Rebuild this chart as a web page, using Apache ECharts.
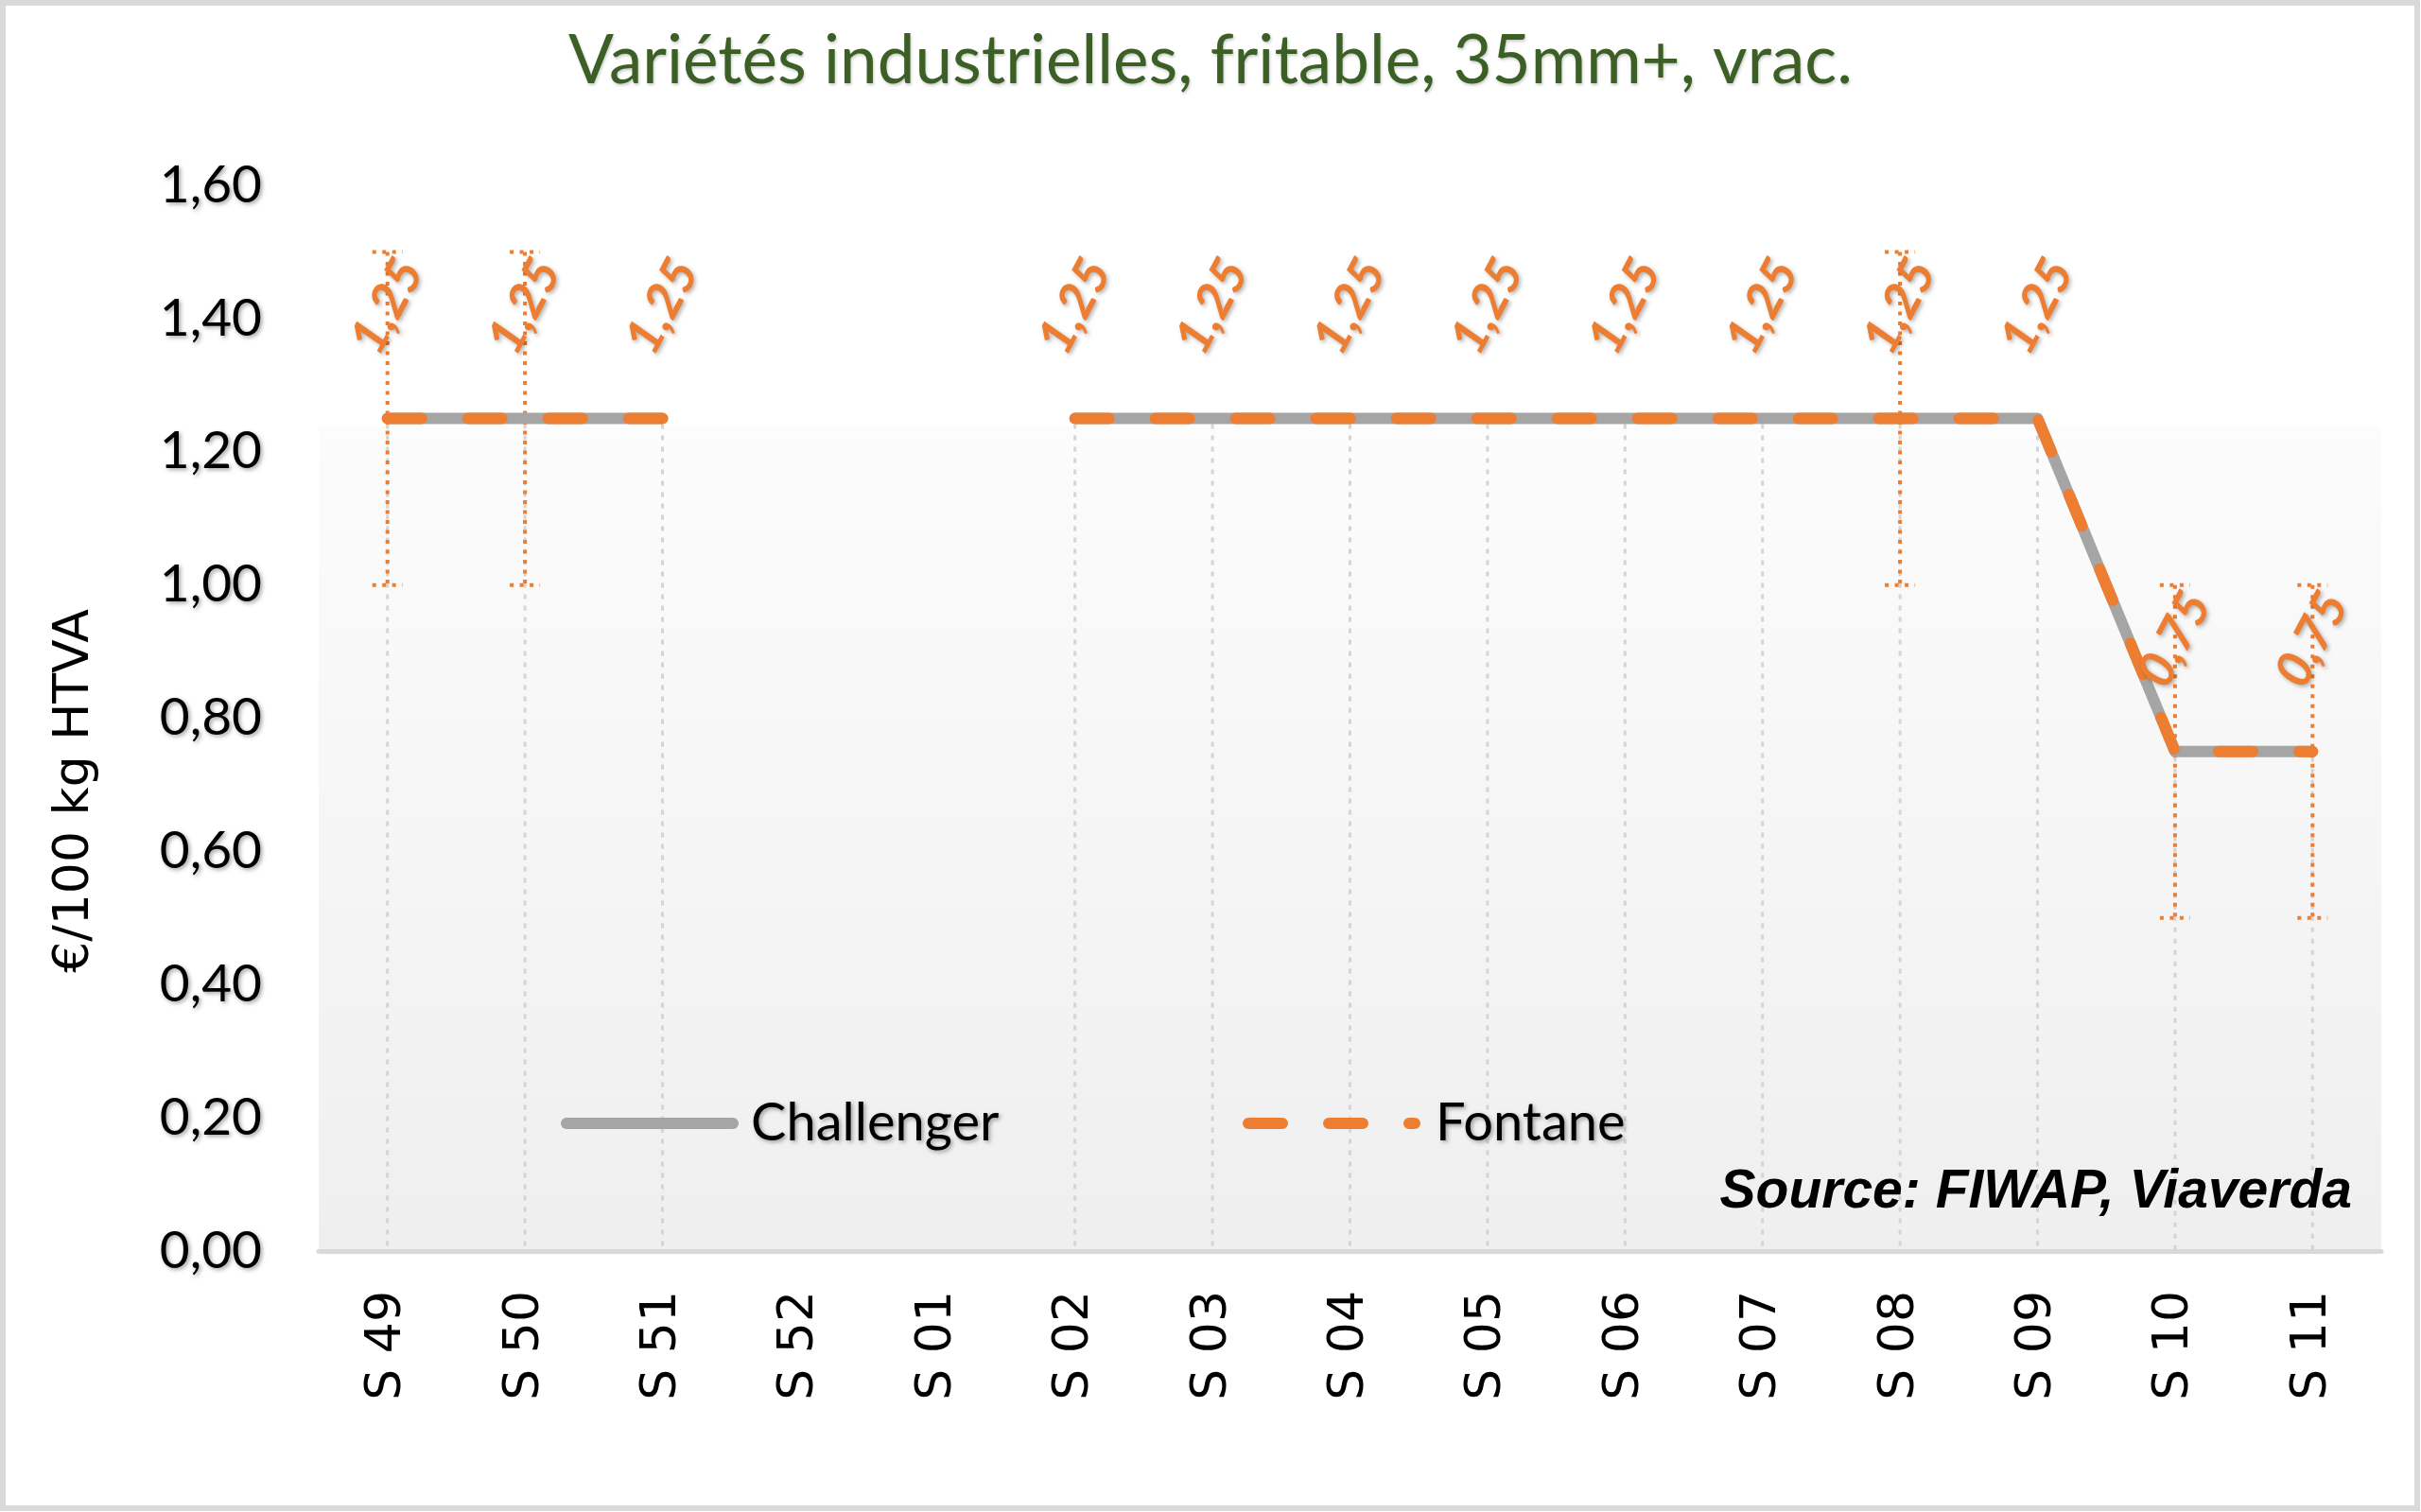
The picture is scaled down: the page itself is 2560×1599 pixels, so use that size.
<!DOCTYPE html>
<html>
<head>
<meta charset="utf-8">
<script src="https://cdn.jsdelivr.net/npm/echarts@6/dist/echarts.min.js"></script>
<style>
  html, body { margin: 0; padding: 0; background: #ffffff; }
  #chart { width: 2560px; height: 1599px; }
</style>
</head>
<body>
<div id="chart"></div>
<script>
// ---- Data ----
const categories = ['S 49','S 50','S 51','S 52','S 01','S 02','S 03','S 04','S 05','S 06','S 07','S 08','S 09','S 10','S 11'];
const challenger = [1.25,1.25,1.25,null,null,1.25,1.25,1.25,1.25,1.25,1.25,1.25,1.25,0.75,0.75];
const fontane    = [1.25,1.25,1.25,null,null,1.25,1.25,1.25,1.25,1.25,1.25,1.25,1.25,0.75,0.75];
const fontaneErrorMinus = [0.25,0.25,null,null,null,null,null,null,null,null,null,0.25,null,0.25,0.25];
const fontaneErrorPlus  = [0.25,0.25,null,null,null,null,null,null,null,null,null,0.25,null,0.25,0.25];
const yTicks = { min: 0, max: 1.6, interval: 0.2 };
const titleText = 'Variétés industrielles, fritable, 35mm+, vrac.';
const yAxisName = '€/100 kg HTVA';
const sourceText = 'Source: FIWAP, Viaverda';

// ---- Derived ----
const dropData = [];
challenger.forEach((v, i) => { if (v != null) dropData.push([i, v]); });
const errData = [];
fontane.forEach((v, i) => {
  if (v != null && fontaneErrorMinus[i] != null) errData.push([i, v - fontaneErrorMinus[i], v + fontaneErrorPlus[i]]);
});
const fmt = v => Number(v).toFixed(2).replace('.', ',');

const ORANGE = '#ed7d31';
const GRAY = '#a5a5a5';
const shadow = { textShadowColor: 'rgba(0,0,0,0.35)', textShadowBlur: 4, textShadowOffsetX: 2, textShadowOffsetY: 2 };

const chart = echarts.init(document.getElementById('chart'), null, { renderer: 'canvas', devicePixelRatio: 1 });

chart.setOption({
  backgroundColor: '#ffffff',
  animation: false,
  title: {
    text: titleText,
    left: 'center',
    top: 25,
    textStyle: Object.assign({ fontFamily: 'Lato', fontWeight: 'normal', fontSize: 71, color: '#3b5f25' },
      { textShadowColor: 'rgba(0,0,0,0.2)', textShadowBlur: 3, textShadowOffsetX: 1, textShadowOffsetY: 2 })
  },
  grid: {
    left: 337, right: 42, top: 196, bottom: 276,
    show: true, borderWidth: 0, borderColor: 'transparent',
    backgroundColor: {
      type: 'linear', x: 0, y: 0, x2: 0, y2: 1,
      colorStops: [
        { offset: 0, color: '#ffffff' },
        { offset: 0.225, color: '#ffffff' },
        { offset: 0.227, color: '#fcfcfc' },
        { offset: 1, color: '#efefef' }
      ]
    }
  },
  legend: [
    {
      data: ['Challenger'],
      left: 588, top: 1155,
      itemWidth: 176, itemHeight: 24,
      lineStyle: { width: 12, type: 'solid', cap: 'round' },
      textStyle: Object.assign({ fontFamily: 'Lato', fontSize: 56, color: '#000', padding: [0, 0, 0, 14] }, shadow)
    },
    {
      data: ['Fontane'],
      left: 1309, top: 1155,
      itemWidth: 176, itemHeight: 24,
      lineStyle: { width: 12, type: [36, 49], cap: 'round' },
      textStyle: Object.assign({ fontFamily: 'Lato', fontSize: 56, color: '#000', padding: [0, 0, 0, 17] }, shadow)
    }
  ],
  xAxis: {
    type: 'category',
    data: categories,
    boundaryGap: true,
    axisLine: { show: true, lineStyle: { color: '#d9d9d9', width: 5 } },
    axisTick: { show: false },
    splitLine: { show: false },
    axisLabel: {
      rotate: 90, margin: 42, interval: 0,
      fontFamily: 'DejaVu Sans', fontSize: 52, color: '#000'
    }
  },
  yAxis: {
    type: 'value',
    min: yTicks.min, max: yTicks.max, interval: yTicks.interval,
    name: yAxisName,
    nameLocation: 'middle',
    nameRotate: 90,
    nameGap: 232,
    nameTextStyle: { fontFamily: 'DejaVu Sans', fontSize: 52, color: '#000', padding: [0, 154, 0, 0] },
    axisLine: { show: false },
    axisTick: { show: false },
    splitLine: { show: false },
    axisLabel: Object.assign({
      margin: 60, formatter: fmt,
      fontFamily: 'Lato', fontSize: 55, color: '#000'
    }, shadow)
  },
  series: [
    {
      name: 'drop',
      type: 'custom',
      silent: true,
      z: 1,
      data: dropData,
      encode: { x: 0, y: 1 },
      renderItem: function (params, api) {
        const p1 = api.coord([api.value(0), api.value(1)]);
        const p0 = api.coord([api.value(0), 0]);
        return {
          type: 'line',
          shape: { x1: p1[0], y1: p1[1] + 6, x2: p0[0], y2: p0[1] },
          style: { stroke: '#d4d4d4', lineWidth: 3, lineDash: [5, 7] }
        };
      }
    },
    {
      name: 'errorbars',
      type: 'custom',
      silent: true,
      z: 2,
      data: errData,
      encode: { x: 0, y: [1, 2] },
      renderItem: function (params, api) {
        const x = api.value(0);
        const lo = api.coord([x, api.value(1)]);
        const hi = api.coord([x, api.value(2)]);
        const hw = 16;
        const st = { stroke: ORANGE, lineWidth: 4, lineDash: [4, 6.5] };
        return {
          type: 'group',
          children: [
            { type: 'line', shape: { x1: hi[0], y1: hi[1], x2: lo[0], y2: lo[1] }, style: st },
            { type: 'line', shape: { x1: hi[0] - hw, y1: hi[1], x2: hi[0] + hw, y2: hi[1] }, style: st },
            { type: 'line', shape: { x1: lo[0] - hw, y1: lo[1], x2: lo[0] + hw, y2: lo[1] }, style: st }
          ]
        };
      }
    },
    {
      name: 'Challenger',
      type: 'line',
      z: 3,
      data: challenger,
      connectNulls: false,
      symbol: 'circle',
      symbolSize: 1,
      showSymbol: true,
      itemStyle: { color: 'rgba(0,0,0,0)', borderWidth: 0 },
      lineStyle: { color: GRAY, width: 12, cap: 'round', join: 'round' }
    },
    {
      name: 'Fontane',
      type: 'line',
      z: 4,
      data: fontane,
      connectNulls: false,
      symbol: 'circle',
      symbolSize: 1,
      showSymbol: true,
      itemStyle: { color: 'rgba(0,0,0,0)', borderWidth: 0 },
      lineStyle: { color: ORANGE, width: 12, type: [36, 49], cap: 'round', join: 'round' },
      label: Object.assign({
        show: true,
        position: 'top',
        distance: 118,
        rotate: 62,
        align: 'center',
        verticalAlign: 'middle',
        formatter: p => fmt(p.value),
        fontFamily: 'Lato', fontWeight: 'bold', fontStyle: 'italic', fontSize: 53, color: ORANGE
      }, { textShadowColor: 'rgba(0,0,0,0.3)', textShadowBlur: 4, textShadowOffsetX: 2, textShadowOffsetY: 2 })
    }
  ],
  graphic: [
    {
      type: 'rect',
      z: 100,
      silent: true,
      shape: { x: 3, y: 3, width: 2553, height: 1592 },
      style: { fill: 'none', stroke: '#d9d9d9', lineWidth: 6 }
    },
    {
      type: 'text',
      z: 100,
      right: 73,
      top: 1233,
      style: {
        text: sourceText,
        font: 'italic bold 57px "Liberation Sans", Arial, sans-serif',
        fill: '#000'
      }
    }
  ]
});
</script>
</body>
</html>
